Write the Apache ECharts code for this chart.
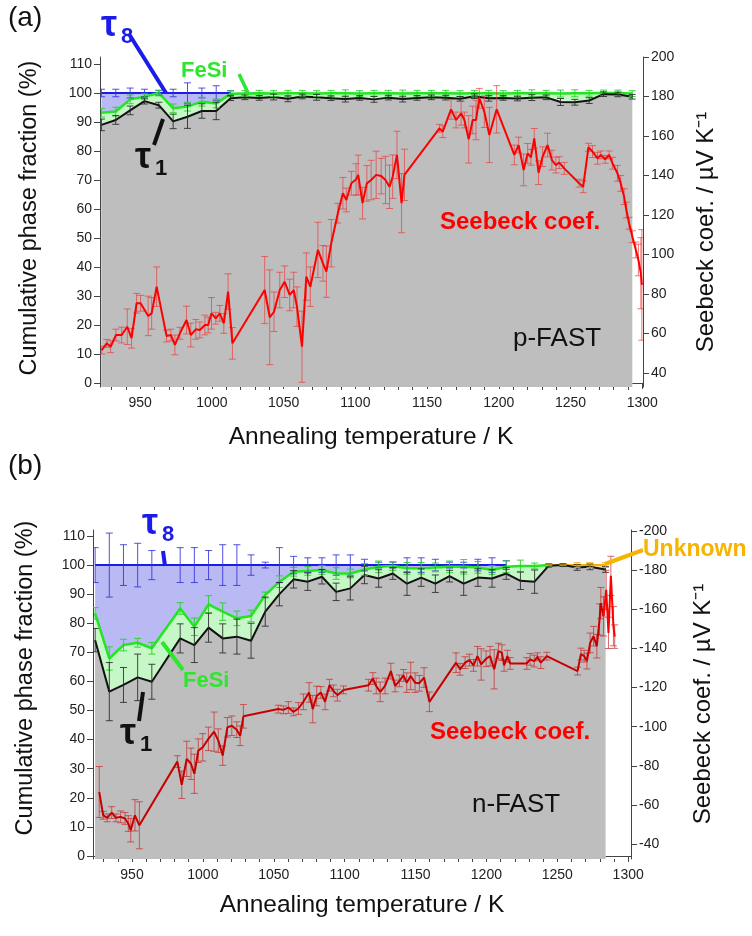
<!DOCTYPE html>
<html>
<head>
<meta charset="utf-8">
<script src="https://cdn.jsdelivr.net/npm/echarts@6/dist/echarts.min.js"></script>
<style>
html, body { margin: 0; padding: 0; background: #fff; }
#chart { width: 752px; height: 936px; }
</style>
</head>
<body>
<div id="chart"></div>
<script>
// ---- (a) p-FAST : cumulative phase fractions ----
var aT      = [923,933,943,953,963,973,983,993,1003,1013,1023,1033,1043,1053,1063,1073,1083,1093,1103,1113,1123,1133,1143,1153,1163,1173,1183,1193,1203,1213,1223,1233,1243,1253,1263,1273,1283,1293];
var aTau1   = [89.0,90.7,94.0,97.2,95.8,90.2,91.8,93.8,93.8,98.2,98.5,98.3,98.6,98.0,98.8,98.5,98.2,97.9,98.3,97.8,98.4,97.9,98.3,98.5,98.4,98.0,98.9,98.2,98.3,98.1,98.4,98.5,96.9,96.8,97.4,99.6,99.5,98.7];
var aTau1Err= [2,1.5,1.5,1,1,2.5,4,2.5,3,0.8,0.8,0.8,1,1,0.8,1,0.8,1,0.8,1,0.8,1,0.8,0.8,0.8,0.8,0.8,1,0.8,0.8,1,0.8,1.2,1,1,0.8,0.8,0.8];
var aFeSi   = [93.2,93.6,97.8,98.7,100,94.7,95.3,97.0,96.4,99.7,99.8,99.9,99.8,99.9,99.9,99.8,99.9,99.9,99.8,99.9,99.9,99.8,99.9,99.9,99.9,99.8,99.9,99.9,99.8,99.9,99.9,99.9,99.8,99.9,99.9,100,100,99.8];
var aFeSiErr= [1.5,1.5,1.5,1,1,1.5,1.5,1.5,1.5,1,1,1,1,1,1,1,1,1.2,1,1,1,1.2,1,1,1,1,1,1,1,1,1.2,1,1.2,1.2,1,1,1,1];
var aTau8T  = [923,933,943,953,963,973,983,993,1003,1013];
var aTau8   = [100,100,100,100,100,100,100,100,100,100];
var aTau8Err= [1.3,1.3,1.7,1.3,0.8,1.3,3.5,1.7,2.5,0.8];

// ---- (a) Seebeck coefficient (uV/K) ----
var aST = [923.2,926.7,929.4,933.1,937.1,941.0,944.0,947.5,950.3,955.6,958.0,961.5,968.4,971.4,974.2,977.7,982.3,985.3,988.8,991.6,995.1,997.4,999.7,1002.7,1005.5,1008.3,1011.3,1014.3,
  1036.8,1040.3,1043.3,1047.3,1050.7,1054.2,1057.0,1059.3,1062.8,1065.8,1068.6,1073.9,1077.4,1079.8,1083.2,1087.8,1091.3,1093.7,1097.2,1100.5,1102.0,1105.0,1108.0,1111.0,1114.5,1118.0,1121.0,1123.8,1126.0,1129.0,1132.2,1134.2,
  1158.6,1160.9,1166.7,1170.2,1173.7,1176.0,1179.0,1181.8,1184.1,1186.4,1189.9,1193.4,1198.5,1210.8,1213.8,1217.3,1220.1,1222.4,1224.7,1227.7,1230.5,1234.0,1237.0,1239.8,1242.1,1245.6,
  1256.0,1258.8,1262.5,1265.3,1268.8,1271.1,1274.1,1276.9,1279.2,1282.7,1285.0,1287.3,1288.9,1290.8,1293.1,1295.5,1297.3,1299.0,1299.7];
var aS  = [51.6,55.0,53.3,59.2,59.2,63.4,57.6,75.3,75.3,68.9,70.2,83.7,58.7,59.2,54.2,60.1,66.8,59.2,62.1,61.8,64.3,64.3,70.2,67.7,70.2,65.1,81.2,55.0,
  82.0,68.2,71.0,82.0,86.2,79.5,82.0,73.6,53.3,88.8,83.7,102.3,95.5,91.3,105.7,120.9,131.0,127.6,136.1,138.0,140.3,126.0,136.0,137.7,140.3,139.7,137.7,134.3,139.4,150.4,126.0,140.3,
  163.9,162.2,173.5,168.1,171.5,168.1,158.3,168.1,168.1,179.1,172.3,160.5,173.5,150.4,155.4,142.8,151.2,149.2,158.8,141.4,149.5,155.4,147.8,145.3,146.5,143.6,
  136.1,134.3,154.3,152.1,148.7,150.4,148.2,150.4,146.2,141.1,136.0,129.3,122.5,115.8,109.0,102.3,97.2,90.5,84.6];
var aSErr = [2,2,3,3,4,9,5,5,4,10,8,10,3,3,5,3,7,6,5,4,5,4,8,3,4,5,9,8,
  17,24,10,9,8,8,9,10,18,12,10,14,9,13,12,5,8,6,6,8,10,8,9,10,12,9,12,11,11,12,15,13,
  2,3,5,4,6,4,12,7,10,5,8,14,12,5,4,8,5,4,5,6,5,6,5,4,3,3,
  2,3,2,3,3,2,2,2,3,4,4,4,4,3,3,4,8,18,28];

// ---- (b) n-FAST : cumulative phase fractions ----
var bT      = [924,934,944,954,964,984,994,1004,1014,1024,1034,1044,1054,1064,1074,1084,1094,1104,1114,1124,1134,1144,1154,1164,1174,1184,1194,1204,1214,1224,1234,1244,1254,1264,1273,1284];
var bTau1   = [74.2,56.5,58.8,61.4,59.9,74.8,72.5,78.5,74.8,75.4,74.0,84.0,90.0,95.1,94.3,96.0,90.8,92.0,96.6,95.4,97.1,93.6,95.7,93.6,96.2,93.6,95.7,95.4,97.1,94.6,94.3,99.8,100,99.2,99.4,98.5];
var bTau1Err= [4,10,6,8,6,5,6,5,5,6,6,5,4,3,3,2.5,3,4,3,3,2,4,3,3,2,4,3,3,2,3,4,0.5,0.5,1,1,1];
var bFeSiT  = [924,934,944,954,964,984,994,1004,1014,1024,1034,1044,1054,1064,1074,1084,1094,1104,1114,1124,1134,1144,1154,1164,1174,1184,1194,1204,1214,1224,1234,1244];
var bFeSi   = [83.4,67.9,72.5,73.3,71.4,85.1,78.8,86.5,84.0,81.7,82.5,89.7,94.3,97.7,98.0,98.3,97.1,97.1,98.5,99.4,99.7,98.9,98.9,99.2,99.4,99.4,99.2,98.3,99.4,99.7,99.7,100];
var bFeSiErr= [2,4,2,1.5,2,2,3,3,3,2.5,2,1,2,1.5,1.5,1.5,2,1.5,2,2,1.5,2,2,1.5,2,2.5,2,1.5,2,2,1,0.5];
var bTau8T  = [924,934,944,954,964,984,994,1004,1014,1024,1034,1044,1054,1064,1074,1084,1094,1104,1114,1124,1134,1144,1154,1164,1174,1184,1194,1204,1214];
var bTau8   = [100,100,100,100,100,100,100,100,100,100,100,100,100,100,100,100,100,100,100,100,100,100,100,100,100,100,100,100,100];
var bTau8Err= [6,11,7,7.5,5,6,6,5,7,7,3.5,1,6,3,2.5,2.5,3.5,3.5,2,1,1,2.5,2.5,2,1,1,2,2.5,1.5];
var bUnkT   = [1244,1254,1264,1273,1284];
var bUnk    = [100,100,100,100,100];
var bUnkErr = [0,0,0.8,0.8,0.8];

// ---- (b) Seebeck coefficient (uV/K) ----
var bST = [926.9,929.7,932.6,935.7,938.7,942.0,945.1,947.4,949.1,952.1,955.2,
  982.0,985.1,988.6,991.6,994.0,996.8,999.9,1003.9,1007.9,1010.9,1014.0,1017.3,1020.4,1023.9,1026.3,1028.6,
  1053.2,1056.8,1060.3,1063.8,1067.4,1070.9,1074.9,1077.5,1080.3,1083.2,1086.2,1089.3,1092.1,1094.9,1099.2,
  1116.8,1119.9,1122.3,1125.1,1128.5,1132.6,1135.6,1138.6,1141.5,1143.8,1146.6,1149.7,1152.7,1156.0,1159.8,
  1178.6,1181.4,1185.0,1188.0,1190.9,1193.7,1196.3,1199.8,1202.6,1205.5,1208.5,1210.9,1212.5,1214.8,1216.7,
  1228.5,1230.8,1233.7,1236.0,1238.4,1242.6,1264.3,1266.7,1269.0,1270.9,1273.2,1275.6,1277.9,
  1279.8,1280.7,1282.6,1284.5,1286.1,1287.8,1289.6,1290.5];
var bS  = [-66.7,-54.8,-53.5,-56.2,-53.5,-54.0,-53.2,-50.6,-47.2,-54.8,-49.7,
  -82.2,-70.4,-83.6,-81.1,-76.0,-87.8,-89.5,-93.8,-97.5,-92.9,-85.3,-99.7,-100.5,-98.5,-95.4,-105.3,
  -109.0,-108.6,-109.8,-107.6,-109.3,-112.7,-117.5,-109.0,-115.7,-117.5,-112.7,-121.2,-118.3,-116.1,-118.8,
  -121.2,-124.6,-120.8,-117.8,-120.8,-128.4,-120.8,-123.4,-126.2,-122.5,-125.9,-122.5,-122.2,-125.1,-112.7,
  -132.7,-129.3,-132.7,-134.0,-131.3,-136.0,-131.8,-134.7,-136.0,-129.3,-138.6,-137.8,-131.3,-136.0,-132.3,
  -132.3,-134.4,-133.5,-135.7,-132.7,-136.0,-128.4,-137.1,-136.0,-133.5,-142.8,-146.2,-141.1,
  -154.7,-163.1,-156.3,-169.9,-147.9,-177.0,-151.3,-146.0];
var bSErr = [13,2,2,3,2,3,3,4,6,8,12,
  3,7,9,8,10,6,7,6,10,6,5,5,5,4,5,6,
  2,2,3,2,3,4,5,7,5,3,4,3,3,3,2,
  3,3,4,5,4,4,3,3,3,5,7,5,4,5,5,
  5,3,3,3,3,5,8,4,5,10,4,4,3,3,3,
  3,3,3,2,3,2,2,3,3,4,5,5,6,
  8,8,10,10,8,10,10,6];
var bBright = 87; // index where the trace turns bright red

var tempTicks  = [950,1000,1050,1100,1150,1200,1250,1300];
var tempMinor  = [930,940,960,970,980,990,1010,1020,1030,1040,1060,1070,1080,1090,1110,1120,1130,1140,1160,1170,1180,1190,1210,1220,1230,1240,1260,1270,1280,1290];
var fracTicks  = [0,10,20,30,40,50,60,70,80,90,100,110];
var seebATicks = [40,60,80,100,120,140,160,180,200];
var seebBTicks = [-200,-180,-160,-140,-120,-100,-80,-60,-40];

var FONT = 'Liberation Sans, Arial, Helvetica, sans-serif';

function pts(xs, ys) {
  return xs.map(function (x, i) { return [x, ys[i]]; });
}

function area(xs, ys, line, w, fill, xi, yi) {
  return {
    type: 'line', xAxisIndex: xi, yAxisIndex: yi, data: pts(xs, ys), z: 3,
    showSymbol: false, symbol: 'none', silent: true,
    lineStyle: { color: line, width: w },
    areaStyle: { color: fill, opacity: 1, origin: 'start' }
  };
}

function trace(xs, ys, color, w, xi, yi) {
  return {
    type: 'line', xAxisIndex: xi, yAxisIndex: yi, data: pts(xs, ys), z: 6,
    showSymbol: false, symbol: 'none', silent: true,
    lineStyle: { color: color, width: w }
  };
}

function errBars(xs, ys, es, color, cap, xi, yi) {
  return {
    type: 'custom', xAxisIndex: xi, yAxisIndex: yi, silent: true, clip: true, z: 5,
    data: xs.map(function (x, i) { return [x, ys[i], es[i]]; }),
    encode: { x: 0, y: 1 },
    renderItem: function (params, api) {
      var x = api.value(0), y = api.value(1), e = api.value(2);
      var t = api.coord([x, y + e]), b = api.coord([x, y - e]);
      var h = cap / 2, st = { stroke: color, lineWidth: 1 };
      return {
        type: 'group', children: [
          { type: 'line', shape: { x1: t[0], y1: t[1], x2: b[0], y2: b[1] }, style: st },
          { type: 'line', shape: { x1: t[0] - h, y1: t[1], x2: t[0] + h, y2: t[1] }, style: st },
          { type: 'line', shape: { x1: b[0] - h, y1: b[1], x2: b[0] + h, y2: b[1] }, style: st }
        ]
      };
    }
  };
}

function plain(v) { return String(v); }

function xAx(grid, min, max) {
  return {
    type: 'value', gridIndex: grid, position: 'bottom', min: min, max: max,
    axisLine: { show: true, lineStyle: { color: '#444', width: 1 } },
    axisTick: { show: true, length: 6, customValues: tempTicks, lineStyle: { color: '#444' } },
    axisLabel: { customValues: tempTicks, formatter: plain, fontSize: 14, color: '#222', fontFamily: FONT, margin: 9 },
    splitLine: { show: false }
  };
}
function xMinor(grid, min, max) {
  return {
    type: 'value', gridIndex: grid, position: 'bottom', min: min, max: max,
    axisLine: { show: false },
    axisTick: { show: true, length: 3, customValues: tempMinor, lineStyle: { color: '#444' } },
    axisLabel: { show: false }, splitLine: { show: false }
  };
}
function yAx(grid, pos, min, max, ticks, inverse) {
  return {
    type: 'value', gridIndex: grid, position: pos, min: min, max: max, inverse: !!inverse,
    axisLine: { show: true, lineStyle: { color: '#444', width: 1 } },
    axisTick: { show: true, length: 6, customValues: ticks, lineStyle: { color: '#444' } },
    axisLabel: { customValues: ticks, formatter: plain, fontSize: 14, color: '#222', fontFamily: FONT, margin: 8 },
    splitLine: { show: false }
  };
}

function txt(x, y, s, size, color, bold, align, vAlign, rot) {
  return {
    type: 'text', x: x, y: y, rotation: rot || 0, silent: true, z: 100,
    style: {
      text: s, fontSize: size, fontFamily: FONT, fontWeight: bold ? 'bold' : 'normal',
      fill: color, align: align || 'left', verticalAlign: vAlign || 'top'
    }
  };
}
function seg(x1, y1, x2, y2, color, w) {
  return {
    type: 'line', silent: true, z: 100,
    shape: { x1: x1, y1: y1, x2: x2, y2: y2 },
    style: { stroke: color, lineWidth: w }
  };
}

var BLUE = '#1c1ce8', BLUEF = '#b9b9f3', GREEN = '#22e622', GREENF = '#c6f7c6', GRAYF = '#bebebe';
var ORANGE = '#f6b400', ORANGEF = '#f7e2a8';

var series = [
  // panel (a)
  area(aTau8T, aTau8, BLUE, 2, BLUEF, 0, 0),
  area(aT, aFeSi, GREEN, 2.5, GREENF, 0, 0),
  area(aT, aTau1, '#111', 2, GRAYF, 0, 0),
  errBars(aTau8T, aTau8, aTau8Err, 'rgba(50,50,220,0.85)', 7, 0, 0),
  errBars(aT, aFeSi, aFeSiErr, 'rgba(40,210,40,0.9)', 7, 0, 0),
  errBars(aT, aTau1, aTau1Err, 'rgba(40,40,40,0.85)', 7, 0, 0),
  errBars(aST, aS, aSErr, 'rgba(235,60,60,0.7)', 7, 0, 1),
  trace(aST, aS, '#ff0000', 2, 0, 1),
  // panel (b)
  area(bUnkT, bUnk, ORANGE, 2, ORANGEF, 2, 2),
  area(bTau8T, bTau8, BLUE, 2, BLUEF, 2, 2),
  area(bFeSiT, bFeSi, GREEN, 2.5, GREENF, 2, 2),
  area(bT, bTau1, '#111', 2, GRAYF, 2, 2),
  errBars(bTau8T, bTau8, bTau8Err, 'rgba(50,50,220,0.85)', 7, 2, 2),
  errBars(bFeSiT, bFeSi, bFeSiErr, 'rgba(40,210,40,0.9)', 7, 2, 2),
  errBars(bT, bTau1, bTau1Err, 'rgba(40,40,40,0.85)', 7, 2, 2),
  errBars(bUnkT, bUnk, bUnkErr, 'rgba(240,170,0,0.9)', 7, 2, 2),
  errBars(bST, bS, bSErr, 'rgba(200,40,40,0.7)', 7, 2, 3),
  trace(bST.slice(0, bBright + 1), bS.slice(0, bBright + 1), '#c80000', 2, 2, 3),
  trace(bST.slice(bBright), bS.slice(bBright), '#ff0000', 2, 2, 3)
];

var graphics = [
  txt(8, 4, '(a)', 28, '#111'),
  txt(8, 452, '(b)', 28, '#111'),
  // axis titles
  txt(30, 218, 'Cumulative phase fraction (%)', 23.5, '#111', false, 'center', 'middle', Math.PI / 2),
  txt(706, 232, 'Seebeck coef. / \u00b5V K\u207b\u00b9', 24, '#111', false, 'center', 'middle', Math.PI / 2),
  txt(371, 437, 'Annealing temperature / K', 24.5, '#111', false, 'center', 'middle'),
  txt(26, 678, 'Cumulative phase fraction (%)', 23.5, '#111', false, 'center', 'middle', Math.PI / 2),
  txt(703, 704, 'Seebeck coef. / \u00b5V K\u207b\u00b9', 24, '#111', false, 'center', 'middle', Math.PI / 2),
  txt(362, 905, 'Annealing temperature / K', 24.5, '#111', false, 'center', 'middle'),
  // (a) annotations
  txt(101, 8, '\u03c4', 36, BLUE, true),
  txt(121, 26, '8', 22, BLUE, true),
  seg(129, 34, 166, 93, BLUE, 4),
  txt(181, 60, 'FeSi', 22, '#2ee62e', true),
  seg(239, 74, 249, 95, '#2ee62e', 3.5),
  txt(135, 140, '\u03c4', 36, '#111', true),
  txt(155, 158, '1', 22, '#111', true),
  seg(163, 119, 154, 145, '#111', 4),
  txt(440, 210, 'Seebeck coef.', 24, '#ff0000', true),
  txt(513, 326, 'p-FAST', 26, '#111'),
  // (b) annotations
  txt(142, 506, '\u03c4', 36, BLUE, true),
  txt(162, 524, '8', 22, BLUE, true),
  seg(163, 551, 165, 566, BLUE, 4),
  txt(183, 670, 'FeSi', 22, '#2ee62e', true),
  seg(162, 642, 183, 670, '#2ee62e', 4),
  txt(120, 716, '\u03c4', 36, '#111', true),
  txt(140, 734, '1', 22, '#111', true),
  seg(143, 692, 139, 721, '#111', 4),
  txt(643, 538, 'Unknown', 23, ORANGE, true),
  seg(605, 564, 643, 550, ORANGE, 4),
  txt(430, 720, 'Seebeck coef.', 24, '#ff0000', true),
  txt(472, 792, 'n-FAST', 26, '#111')
];

var chart = echarts.init(document.getElementById('chart'), null, { renderer: 'canvas' });
chart.setOption({
  animation: false,
  backgroundColor: '#fff',
  grid: [
    { left: 100, top: 57, width: 543, height: 330 },
    { left: 93, top: 530, width: 538, height: 329 }
  ],
  xAxis: [
    xAx(0, 922, 1300.5),
    xMinor(0, 922, 1300.5),
    xAx(1, 922.5, 1302),
    xMinor(1, 922.5, 1302)
  ],
  yAxis: [
    yAx(0, 'left', -1.38, 112.41, fracTicks),
    yAx(0, 'right', 32.9, 200, seebATicks),
    yAx(1, 'left', -1.03, 112.06, fracTicks),
    yAx(1, 'right', -200.4, -32.5, seebBTicks, true)
  ],
  series: series,
  graphic: graphics
});
</script>
</body>
</html>
